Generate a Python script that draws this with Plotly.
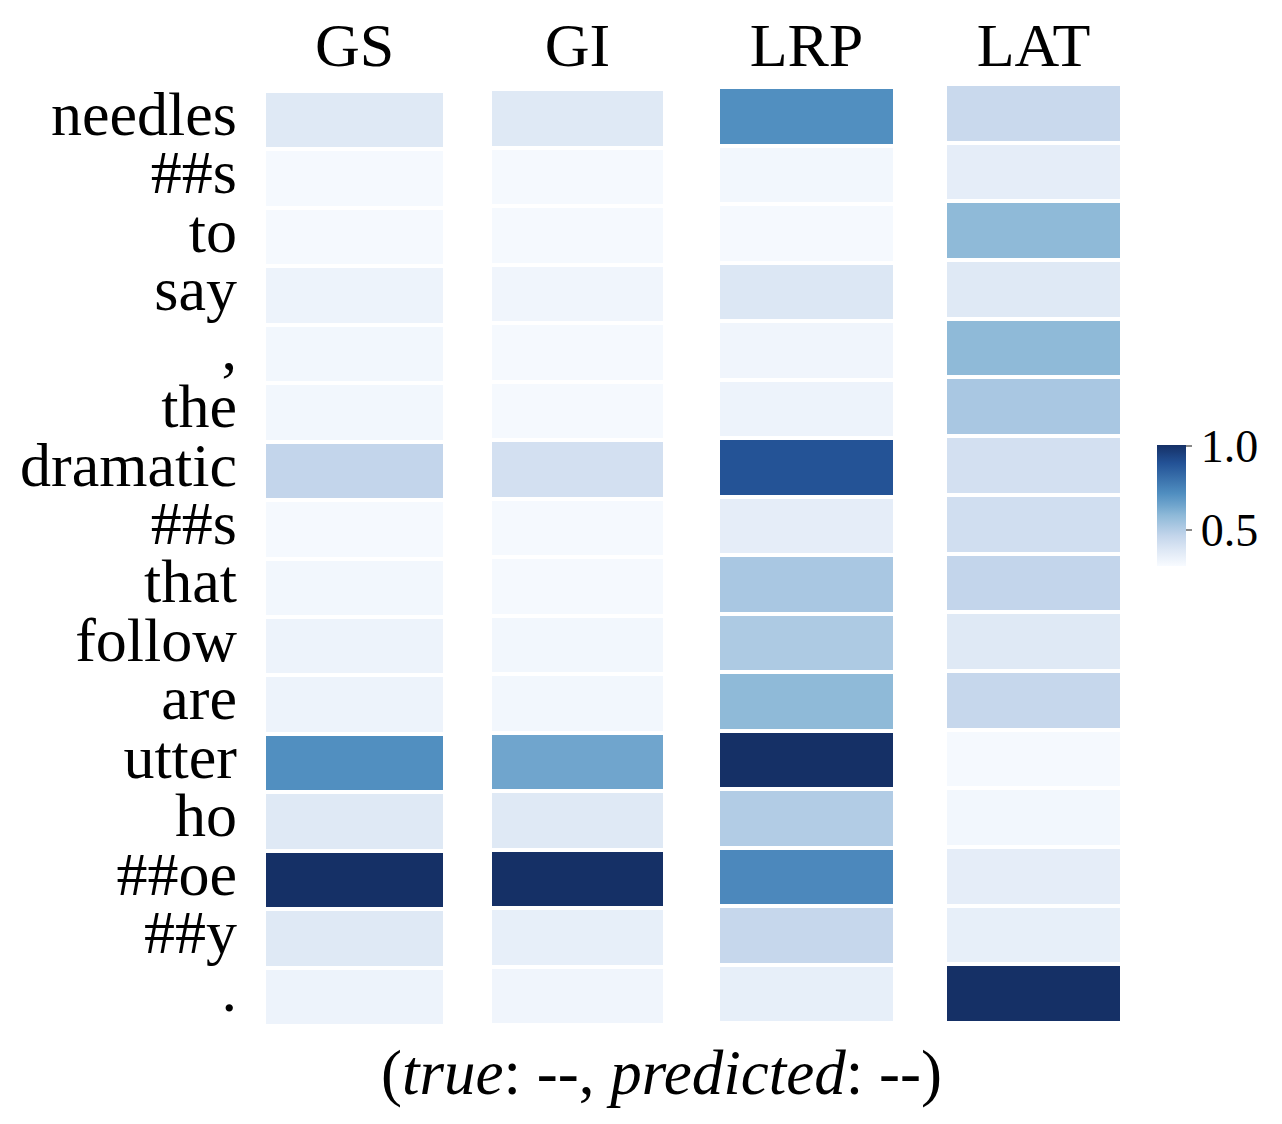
import plotly.graph_objects as go

# токены предложения (сверху вниз)
tokens = ["needles", "##s", "to", "say", ",", "the", "dramatic", "##s",
          "that", "follow", "are", "utter", "ho", "##oe", "##y", "."]

methods = ["GS", "GI", "LRP", "LAT"]

# значения атрибуции для каждого метода
gs_values = [0.37, 0.29, 0.29, 0.32, 0.30, 0.30, 0.46, 0.29,
             0.30, 0.32, 0.32, 0.71, 0.37, 1.00, 0.37, 0.32]
gi_values = [0.37, 0.29, 0.29, 0.31, 0.29, 0.29, 0.41, 0.29,
             0.29, 0.30, 0.30, 0.64, 0.37, 1.00, 0.34, 0.31]
lrp_values = [0.71, 0.30, 0.29, 0.38, 0.31, 0.32, 0.89, 0.35,
              0.52, 0.51, 0.58, 1.00, 0.50, 0.73, 0.45, 0.34]
lat_values = [0.44, 0.35, 0.58, 0.37, 0.58, 0.52, 0.41, 0.42,
              0.46, 0.37, 0.45, 0.29, 0.30, 0.35, 0.34, 1.00]

all_values = [gs_values, gi_values, lrp_values, lat_values]

Z_MIN = 0.28
Z_MAX = 1.0

# приглушённая палитра Blues, как на исходной картинке
COLORSCALE = [
    [0.00, "rgb(248,251,255)"],
    [0.13, "rgb(222,232,245)"],
    [0.25, "rgb(195,213,235)"],
    [0.42, "rgb(142,185,216)"],
    [0.50, "rgb(112,165,205)"],
    [0.60, "rgb(80,142,192)"],
    [0.85, "rgb(35,82,150)"],
    [1.00, "rgb(21,48,102)"],
]

# отступ body в браузере
PAD = 8
W, H = 1282 - 2 * PAD, 1124 - 2 * PAD
SERIF = "Liberation Serif, Times New Roman, serif"
FONT_SIZE = 62


def px_x(x):
    return (x - PAD) / W


def px_y(y):
    return 1 - (y - PAD) / H


# положение каждой колонки в пикселях (left, right, top, bottom)
panels = [
    (266, 443, 91, 1026),
    (492, 663, 89, 1025),
    (720, 893, 87, 1023),
    (947, 1120, 84, 1023),
]

fig = go.Figure()

rows = list(range(len(tokens)))

for i, (name, vals) in enumerate(zip(methods, all_values)):
    suffix = "" if i == 0 else str(i + 1)
    fig.add_trace(go.Heatmap(
        z=[[v] for v in vals],
        x=[name],
        y=rows,
        coloraxis="coloraxis",
        xgap=0,
        ygap=4,
        xaxis="x" + suffix,
        yaxis="y" + suffix,
        hovertemplate=name + ": %{z:.2f}<extra></extra>",
    ))

    left, right, top, bottom = panels[i]

    fig.layout["xaxis" + suffix] = dict(
        domain=[px_x(left), px_x(right)],
        anchor="y" + suffix,
        side="top",
        automargin=False,
        showgrid=False,
        zeroline=False,
        showline=False,
        ticks="",
        tickfont=dict(family=SERIF, size=FONT_SIZE, color="black"),
        # заголовки колонок на одной линии
        ticklabelstandoff=top - 79,
        fixedrange=True,
    )
    fig.layout["yaxis" + suffix] = dict(
        domain=[px_y(bottom), px_y(top)],
        anchor="x" + suffix,
        range=[len(tokens) - 0.5, -0.5],
        automargin=False,
        showgrid=False,
        zeroline=False,
        showline=False,
        ticks="",
        tickmode="array",
        tickvals=[r - 0.12 for r in rows],
        ticktext=tokens,
        showticklabels=(i == 0),
        tickfont=dict(family=SERIF, size=FONT_SIZE, color="black"),
        ticklabelstandoff=28,
        fixedrange=True,
    )

fig.update_layout(
    width=W,
    height=H,
    margin=dict(l=0, r=0, t=0, b=0, autoexpand=False),
    plot_bgcolor="white",
    paper_bgcolor="white",
    coloraxis=dict(
        colorscale=COLORSCALE,
        cmin=Z_MIN,
        cmax=Z_MAX,
        colorbar=dict(
            x=px_x(1157),
            xanchor="left",
            y=px_y(506),
            yanchor="middle",
            xpad=0,
            ypad=0,
            lenmode="pixels",
            len=121,
            thicknessmode="pixels",
            thickness=29,
            outlinewidth=0,
            ticks="outside",
            ticklen=6,
            tickwidth=2,
            tickcolor="#888888",
            tickmode="array",
            tickvals=[0.5, 1.0],
            ticktext=["0.5", "1.0"],
            tickfont=dict(family=SERIF, size=46, color="black"),
        ),
    ),
    showlegend=False,
)

fig.add_annotation(
    text="(<i>true</i>: --, <i>predicted</i>: --)",
    xref="paper", yref="paper",
    x=px_x(661), y=px_y(1073),
    xanchor="center", yanchor="middle",
    showarrow=False,
    font=dict(family=SERIF, size=63, color="black"),
)

fig.write_html("out.html")
